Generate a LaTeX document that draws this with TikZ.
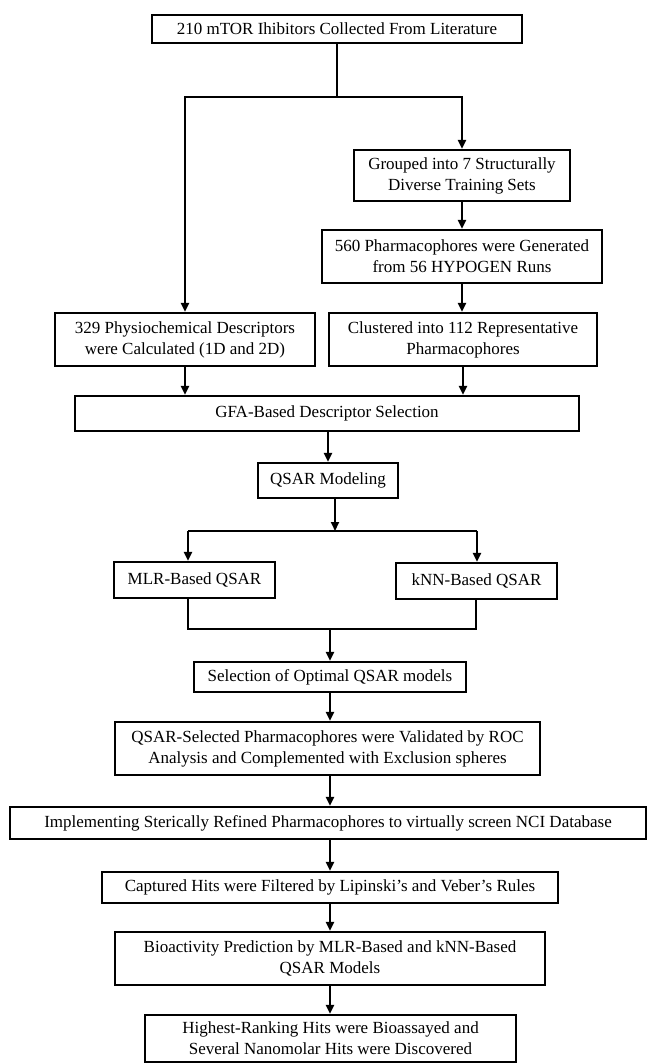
\documentclass[tikz,border=0pt]{standalone}
\usepackage{fontspec}
\setmainfont{Liberation Serif}
\usetikzlibrary{arrows.meta}
\begin{document}
\begin{tikzpicture}[x=1pt,y=-1pt,
  box/.style={draw, line width=2.2pt, align=center, inner sep=0pt, font=\fontsize{17}{21}\selectfont},
  arr/.style={line width=2pt, -{Triangle[length=9pt,width=8pt]}},
  ln/.style={line width=2pt}]
\useasboundingbox (0,0) rectangle (648,1064);
\node[box, minimum width=370pt, minimum height=28pt] (b1) at (337,29) {210 mTOR Ihibitors Collected From Literature};
\node[box, minimum width=216pt, minimum height=51pt] (grp) at (462,175.5) {Grouped into 7 Structurally\\Diverse Training Sets};
\node[box, minimum width=280pt, minimum height=53pt] (gen) at (462,256.5) {560 Pharmacophores were Generated\\from 56 HYPOGEN Runs};
\node[box, minimum width=268pt, minimum height=53pt] (clu) at (463,339.5) {Clustered into 112 Representative\\Pharmacophores};
\node[box, minimum width=260pt, minimum height=53pt] (phys) at (185,339.5) {329 Physiochemical Descriptors\\were Calculated (1D and 2D)};
\node[box, minimum width=504pt, minimum height=35pt] (gfa) at (327,413.5) {GFA-Based Descriptor Selection};
\node[box, minimum width=140pt, minimum height=35pt] (qm) at (328,480.5) {QSAR Modeling};
\node[box, minimum width=161pt, minimum height=36pt] (mlr) at (194.5,580) {MLR-Based QSAR};
\node[box, minimum width=161pt, minimum height=36pt] (knn) at (476.5,581) {kNN-Based QSAR};
\node[box, minimum width=272pt, minimum height=30pt] (sel) at (330,677) {Selection of Optimal QSAR models};
\node[box, minimum width=425pt, minimum height=53pt] (qsv) at (327.5,748.5) {QSAR-Selected Pharmacophores were Validated by ROC\\Analysis and Complemented with Exclusion spheres};
\node[box, minimum width=636pt, minimum height=32pt] (imp) at (328,823) {Implementing Sterically Refined Pharmacophores to virtually screen NCI Database};
\node[box, minimum width=456pt, minimum height=31pt] (cap) at (330,887.5) {Captured Hits were Filtered by Lipinski’s and Veber’s Rules};
\node[box, minimum width=430pt, minimum height=53pt] (bio) at (330,958.5) {Bioactivity Prediction by MLR-Based and kNN-Based\\QSAR Models};
\node[box, minimum width=371pt, minimum height=47pt] (hi) at (330.5,1038.5) {Highest-Ranking Hits were Bioassayed and\\Several Nanomolar Hits were Discovered};

\coordinate (j1) at (337,97);
\draw[ln] (b1.south) -- (j1);
\draw[arr] (j1) -| (phys.north);
\draw[arr] (j1) -| (grp.north);
\draw[arr] (grp.south) -- (grp.south |- gen.north);
\draw[arr] (gen.south) -- (gen.south |- clu.north);
\draw[arr] (phys.south) -- (phys.south |- gfa.north);
\draw[arr] (clu.south) -- (clu.south |- gfa.north);
\draw[arr] (qm.north |- gfa.south) -- (qm.north);

\coordinate (j2) at (335,531);
\coordinate (j2l) at (188,531);
\coordinate (j2r) at (477,531);
\draw[arr] (qm.south -| j2) -- (j2);
\draw[ln] (j2l) -- (j2r);
\draw[arr] (j2l) -- (j2l |- mlr.north);
\draw[arr] (j2r) -- (j2r |- knn.north);

\coordinate (j3l) at (188,629);
\coordinate (j3r) at (476,629);
\draw[ln] (j3l |- mlr.south) -- (j3l) -- (j3r) -- (j3r |- knn.south);
\draw[arr] (sel.north |- j3l) -- (sel.north);

\draw[arr] (sel.south) -- (sel.south |- qsv.north);
\draw[arr] (sel.south |- qsv.south) -- (sel.south |- imp.north);
\draw[arr] (cap.north |- imp.south) -- (cap.north);
\draw[arr] (cap.south) -- (cap.south |- bio.north);
\draw[arr] (bio.south) -- (bio.south |- hi.north);
\end{tikzpicture}
\end{document}
